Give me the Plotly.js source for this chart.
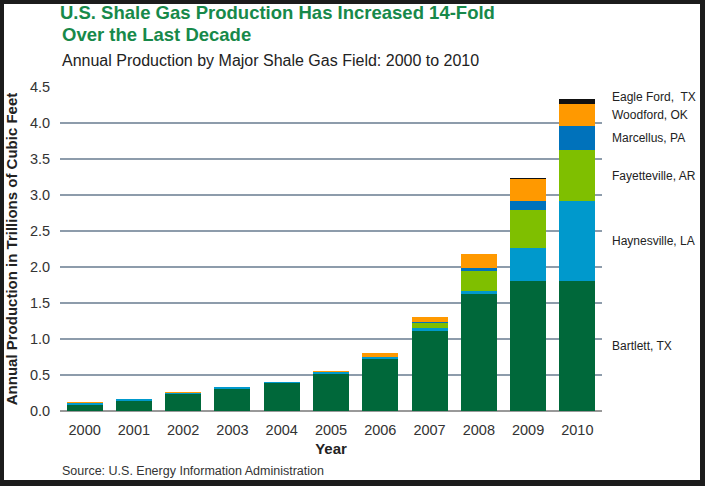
<!DOCTYPE html>
<html>
<head>
<meta charset="utf-8">
<script src="https://cdn.plot.ly/plotly-3.0.1.min.js"></script>
<style>
html, body { margin: 0; padding: 0; background: #ffffff; }
#chart { width: 705px; height: 486px; position: absolute; left: 0; top: 0; }
#frame { position: absolute; left: 0; top: 0; width: 705px; height: 486px; box-sizing: border-box;
  border-style: solid; border-color: #1c1c1c; border-width: 4px 5px 6px 4px; pointer-events: none; }
</style>
</head>
<body>
<div id="chart"></div>
<div id="frame"></div>
<script>
// ---- data (trillion cubic feet) ----
const years = ['2000','2001','2002','2003','2004','2005','2006','2007','2008','2009','2010'];
const bartlett     = [0.09, 0.14, 0.23, 0.31, 0.385, 0.52, 0.72, 1.11, 1.625, 1.80, 1.80];
const haynesville  = [0.02, 0.02, 0.025, 0.02, 0.02, 0.025, 0.03, 0.04, 0.045, 0.47, 1.12];
const fayetteville = [0.0, 0.0, 0.0, 0.0, 0.0, 0.0, 0.005, 0.07, 0.27, 0.52, 0.70];
const marcellus    = [0.0, 0.0, 0.0, 0.0, 0.0, 0.0, 0.0, 0.02, 0.04, 0.13, 0.34];
const woodford     = [0.01, 0.01, 0.005, 0.0, 0.0, 0.01, 0.045, 0.07, 0.20, 0.30, 0.31];
const eagleFord    = [0.0, 0.0, 0.0, 0.0, 0.0, 0.0, 0.0, 0.0, 0.005, 0.02, 0.06];
const seriesNames  = ['Bartlett, TX', 'Haynesville, LA', 'Fayetteville, AR', 'Marcellus, PA', 'Woodford, OK', 'Eagle Ford,\u00a0 TX'];
const yTicks = [0, 0.5, 1.0, 1.5, 2.0, 2.5, 3.0, 3.5, 4.0, 4.5];
const yTickText = ['0.0','0.5','1.0','1.5','2.0','2.5','3.0','3.5','4.0','4.5'];
const titleLine1 = 'U.S. Shale Gas Production Has Increased 14-Fold';
const titleLine2 = 'Over the Last Decade';

const seriesValues = [bartlett, haynesville, fayetteville, marcellus, woodford, eagleFord];
const colors = ['#00683a', '#0099cc', '#7fbf00', '#0072bb', '#ff9900', '#111111'];

const FONT = '"Liberation Sans", Arial, sans-serif';
const TITLE_COLOR = '#17894a';

const traces = seriesValues.map((vals, i) => ({
  type: 'bar',
  name: seriesNames[i],
  x: years,
  y: vals,
  marker: { color: colors[i], line: { width: 0 } },
  hoverinfo: 'x+y+name'
}));

// Right-hand labels, positioned at the 2010 segment midpoints
const last = years.length - 1;
let cum = 0;
const labelAnns = seriesValues.map((vals, i) => {
  const v = vals[last];
  const isTop = (i === seriesValues.length - 1);
  const mid = isTop ? cum + v : cum + v / 2;
  cum += v;
  return {
    xref: 'x', yref: 'y', x: 10.5, y: mid,
    xanchor: 'left', yanchor: 'middle', xshift: 8, yshift: isTop ? 2 : 0,
    text: seriesNames[i], showarrow: false,
    font: { family: FONT, size: 12, color: '#222222' }
  };
});

const layout = {
  width: 705, height: 486,
  paper_bgcolor: '#ffffff', plot_bgcolor: '#ffffff',
  margin: { l: 60, r: 103, t: 87, b: 75, pad: 0 },
  barmode: 'stack',
  bargap: 0.27,
  showlegend: false,
  font: { family: FONT, color: '#333333' },
  title: {
    text: titleLine1,
    font: { family: FONT, size: 18.5, color: TITLE_COLOR, weight: 'bold' },
    xref: 'container', x: 60 / 705, xanchor: 'left',
    yref: 'container', y: 1 - 13 / 486, yanchor: 'middle'
  },
  xaxis: {
    type: 'category',
    range: [-0.5, 10.5],
    showgrid: false,
    showline: false,
    zeroline: false,
    ticks: 'outside', ticklen: 6, tickcolor: 'rgba(0,0,0,0)',
    tickfont: { family: FONT, size: 14.5, color: '#333333' },
    title: { text: 'Year', font: { family: FONT, size: 15, color: '#222222', weight: 'bold' }, standoff: 6 },
    fixedrange: true
  },
  yaxis: {
    range: [0, 4.5],
    tickvals: yTicks,
    ticktext: yTickText,
    showgrid: true,
    gridcolor: '#8d9cab',
    gridwidth: 1.5,
    zeroline: true,
    zerolinecolor: '#999999',
    zerolinewidth: 2.5,
    showline: false,
    ticks: 'outside', ticklen: 6, tickcolor: 'rgba(0,0,0,0)',
    tickfont: { family: FONT, size: 14.5, color: '#333333' },
    title: { text: 'Annual Production in Trillions of Cubic Feet', font: { family: FONT, size: 15, color: '#222222', weight: 'bold' }, standoff: 8 },
    fixedrange: true
  },
  annotations: [
    {
      xref: 'paper', yref: 'paper', x: 0, y: 1, xanchor: 'left', yanchor: 'middle', yshift: 53,
      text: titleLine2, showarrow: false,
      font: { family: FONT, size: 18.5, color: TITLE_COLOR, weight: 'bold' }
    },
    {
      xref: 'paper', yref: 'paper', x: 0, y: 1, xanchor: 'left', yanchor: 'middle', yshift: 27,
      text: 'Annual Production by Major Shale Gas Field: 2000 to 2010', showarrow: false,
      font: { family: FONT, size: 16, color: '#222222' }
    },
    {
      xref: 'paper', yref: 'paper', x: 0, y: 0, xanchor: 'left', yanchor: 'middle', yshift: -60,
      text: 'Source: U.S. Energy Information Administration', showarrow: false,
      font: { family: FONT, size: 12.5, color: '#333333' }
    }
  ].concat(labelAnns)
};

Plotly.newPlot('chart', traces, layout, { displayModeBar: false, staticPlot: true });
</script>
</body>
</html>
